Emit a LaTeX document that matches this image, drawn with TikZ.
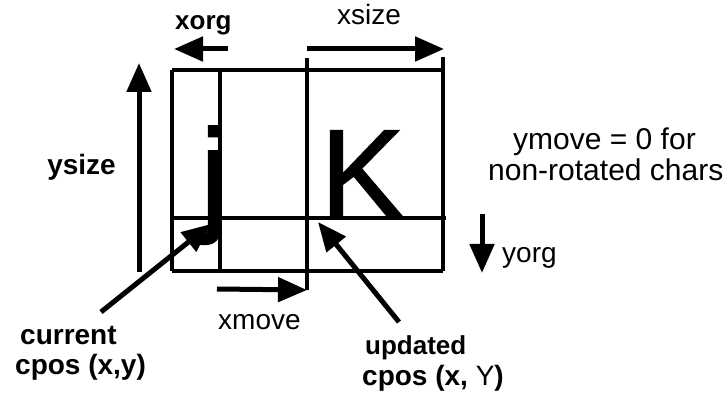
\documentclass[tikz,border=0pt]{standalone}
\usepackage{fontspec}
\setmainfont{Liberation Sans}
\newfontfamily\glyphfont[FakeBold=1.2]{Liberation Sans}
\usetikzlibrary{arrows.meta}
\begin{document}
\begin{tikzpicture}[x=1pt,y=-1pt,
  box/.style={line width=4.8pt},
  arr/.style={line width=5pt,-{Triangle[length=29pt,width=24pt]}},
  lbl/.style={inner sep=0pt,anchor=base west,font=\fontsize{28}{30}\selectfont},
  note/.style={inner sep=0pt,anchor=base west,font=\fontsize{30}{30}\selectfont},
  blbl/.style={inner sep=0pt,anchor=base west,font=\fontsize{28}{30}\selectfont\bfseries},
  glyph/.style={inner sep=0pt,anchor=base west,font=\fontsize{127}{130}\glyphfont}]
\useasboundingbox (0,0) rectangle (726,403);
% corners
\coordinate (tl) at (172,70);
\coordinate (tr) at (443,70);
\coordinate (bl) at (172,271);
\coordinate (br) at (443,271);
\coordinate (ml) at (172,218);
\coordinate (mr) at (446,218);
\coordinate (v1t) at (220,70);
\coordinate (v1b) at (220,271);
\coordinate (v2t) at (307,58);
\coordinate (v2b) at (307,290);
\coordinate (v3t) at (443,57);
% glyphs
\node[glyph] (j) at (200,218) {j};
\node[glyph] (K) at (320,218) {K};
% box
\draw[box] (tl) -- (tr);
\draw[box] (bl) -- (br);
\draw[box] (ml) -- (mr);
\draw[box] (tl) -- (bl);
\draw[box] (v1t) -- (v1b);
\draw[box] (v2t) -- (v2b);
\draw[box] (v3t) -- (br);
% xorg / xsize
\coordinate (xo1) at (228,49);
\coordinate (xo2) at (174,49);
\draw[arr] (xo1) -- (xo2);
\node[blbl,font=\fontsize{26}{30}\selectfont\bfseries] (xorg) at (175,30) {xorg};
\coordinate (xs1) at (307,49);
\coordinate (xs2) at (444,49);
\draw[arr] (xs1) -- (xs2);
\node[lbl] (xsize) at (337,25) {xsize};
% ysize
\coordinate (ys1) at (139,272);
\coordinate (ys2) at (139,63);
\draw[arr] (ys1) -- (ys2);
\node[blbl,anchor=base east] (ysize) at (116,175) {ysize};
% xmove
\coordinate (xm1) at (217,289);
\draw[arr] (xm1) -- (v2b);
\node[lbl] (xmove) at (218,330) {xmove};
% yorg
\coordinate (yo1) at (482,214);
\coordinate (yo2) at (482,273);
\draw[arr] (yo1) -- (yo2);
\node[lbl] (yorg) at (502,263) {yorg};
% ymove note
\node[note] (ymove1) at (513,150) {ymove = 0 for};
\node[note] (ymove2) at (488,181) {non-rotated chars};
% current cpos
\node[blbl] (cur1) at (20,345) {current};
\node[blbl] (cur2) at (15,374) {cpos (x,y)};
\coordinate (c1) at (101,312);
\coordinate (c2) at (211,224);
\draw[arr] (c1) -- (c2);
% updated cpos
\node[blbl,font=\fontsize{26}{30}\selectfont\bfseries] (upd1) at (365,355) {updated};
\node[blbl] (upd2) at (362,385) {cpos (x, {\mdseries Y})};
\coordinate (u1) at (399,322);
\coordinate (u2) at (318,222);
\draw[arr] (u1) -- (u2);
\end{tikzpicture}
\end{document}
